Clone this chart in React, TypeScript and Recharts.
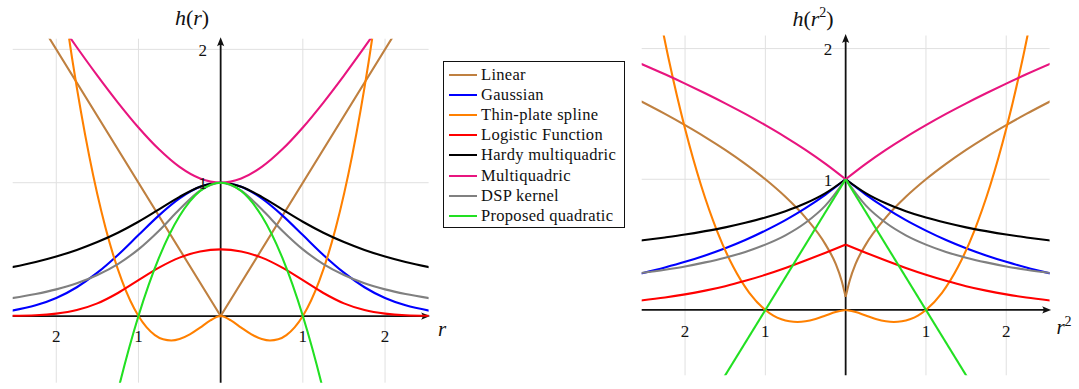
import React from 'react';
import { LineChart, Line, XAxis, YAxis, ReferenceLine, ReferenceDot } from 'recharts';

// series names / colours (legend order = draw order)
const seriesNames = ['Linear', 'Gaussian', 'Thin-plate spline', 'Logistic Function', 'Hardy multiquadric', 'Multiquadric', 'DSP kernel', 'Proposed quadratic'];
const seriesColors = ['#bf8040', '#0000ff', '#ff8000', '#ff0000', '#000000', '#e8157f', '#808080', '#22e022'];

// left panel: h(r), values read for r >= 0 (curves are symmetric)
const rSteps = [0, 0.25, 0.5, 0.75, 1, 1.25, 1.5, 1.75, 2, 2.25, 2.55];
const rEnds = [0, 2.55];
const rThin = [0, 0.125, 0.25, 0.375, 0.5, 0.6, 0.7, 0.8, 0.9, 1, 1.2, 1.4, 1.6, 1.8, 2.0];
const rQuad = [0, 0.25, 0.5, 0.75, 1, 1.25, 1.5];

const leftLinear = [0, 2.55];
const leftGaussian = [1, 0.969, 0.882, 0.755, 0.607, 0.458, 0.325, 0.216, 0.135, 0.08, 0.039];
const leftThinPlate = [0, -0.033, -0.087, -0.138, -0.173, -0.184, -0.175, -0.143, -0.085, 0, 0.263, 0.66, 1.203, 1.904, 2.773];
const leftLogistic = [0.5, 0.484, 0.438, 0.363, 0.269, 0.173, 0.095, 0.045, 0.018, 0.006, 0.002];
const leftHardy = [1, 0.97, 0.894, 0.8, 0.707, 0.625, 0.555, 0.496, 0.447, 0.406, 0.365];
const leftMulti = [1, 1.031, 1.118, 1.25, 1.414, 1.601, 1.803, 2.016, 2.236, 2.462, 2.739];
const leftDsp = [1, 0.941, 0.8, 0.64, 0.5, 0.39, 0.308, 0.246, 0.2, 0.165, 0.133];
const leftQuad = [1, 0.9375, 0.75, 0.4375, 0, -0.5625, -1.25];

// right panel: h(r^2), values read for r^2 >= 0
const sSteps = [0, 0.25, 0.5, 0.75, 1, 1.25, 1.5, 1.75, 2, 2.25, 2.55];
const sRoot = [0, 0.05, 0.125, 0.25, 0.5, 0.75, 1, 1.25, 1.5, 1.75, 2, 2.25, 2.55];
const sThin = [0, 0.125, 0.25, 0.375, 0.5, 0.6, 0.7, 0.8, 0.9, 1, 1.2, 1.4, 1.6, 1.8, 2.0, 2.2, 2.4];
const sEnds = [0, 1.6];

const rightLinear = [0.1, 0.224, 0.354, 0.5, 0.707, 0.866, 1, 1.118, 1.225, 1.323, 1.414, 1.5, 1.597];
const rightGaussian = [1, 0.883, 0.779, 0.687, 0.607, 0.535, 0.472, 0.417, 0.368, 0.325, 0.279];
const rightThinPlate = [0, -0.016, -0.043, -0.069, -0.087, -0.092, -0.087, -0.071, -0.043, 0, 0.131, 0.33, 0.602, 0.952, 1.386, 1.908, 2.521];
const rightLogistic = [0.5, 0.438, 0.378, 0.321, 0.269, 0.223, 0.182, 0.148, 0.119, 0.095, 0.072];
const rightHardy = [1, 0.894, 0.816, 0.756, 0.707, 0.667, 0.632, 0.603, 0.577, 0.555, 0.531];
const rightMulti = [1, 1.118, 1.225, 1.323, 1.414, 1.5, 1.581, 1.658, 1.732, 1.803, 1.884];
const rightDsp = [1, 0.8, 0.667, 0.571, 0.5, 0.444, 0.4, 0.364, 0.333, 0.308, 0.282];
const rightQuad = [1, -0.6];

const xTicks = [-2, -1, 1, 2];
const yTicks = [1, 2];

const FONT = '"Liberation Serif", "DejaVu Serif", serif';

type Pt = { x: number; y: number };
type Series = { xs: number[]; ys: number[]; curve: 'monotone' | 'linear' };

const mirror = (xs: number[], ys: number[]): Pt[] => {
  const pts: Pt[] = [];
  for (let i = xs.length - 1; i > 0; i--) pts.push({ x: -xs[i], y: ys[i] });
  for (let i = 0; i < xs.length; i++) pts.push({ x: xs[i], y: ys[i] });
  return pts;
};
const half = (xs: number[], ys: number[], sign: number): Pt[] => xs.map((x, i) => ({ x: sign * x, y: ys[i] }));

const leftSeries: Series[] = [
  { xs: rEnds, ys: leftLinear, curve: 'linear' },
  { xs: rSteps, ys: leftGaussian, curve: 'monotone' },
  { xs: rThin, ys: leftThinPlate, curve: 'monotone' },
  { xs: rSteps, ys: leftLogistic, curve: 'monotone' },
  { xs: rSteps, ys: leftHardy, curve: 'monotone' },
  { xs: rSteps, ys: leftMulti, curve: 'monotone' },
  { xs: rSteps, ys: leftDsp, curve: 'monotone' },
  { xs: rQuad, ys: leftQuad, curve: 'monotone' },
];

const rightSeries: Series[] = [
  { xs: sRoot, ys: rightLinear, curve: 'monotone' },
  { xs: sSteps, ys: rightGaussian, curve: 'monotone' },
  { xs: sThin, ys: rightThinPlate, curve: 'monotone' },
  { xs: sSteps, ys: rightLogistic, curve: 'monotone' },
  { xs: sSteps, ys: rightHardy, curve: 'monotone' },
  { xs: sSteps, ys: rightMulti, curve: 'monotone' },
  { xs: sSteps, ys: rightDsp, curve: 'monotone' },
  { xs: sEnds, ys: rightQuad, curve: 'linear' },
];

// axis line with a small arrow head at the end
const ArrowShape = (p: any) => {
  const { x1, y1, x2, y2 } = p;
  const dx = x2 - x1;
  const dy = y2 - y1;
  const len = Math.hypot(dx, dy) || 1;
  const ux = dx / len;
  const uy = dy / len;
  const tx = x2 + ux * 1.5;
  const ty = y2 + uy * 1.5;
  const L = 9;
  const W = 3.6;
  const bx = tx - ux * L;
  const by = ty - uy * L;
  return (
    <g>
      <line x1={x1} y1={y1} x2={bx + ux * 3} y2={by + uy * 3} stroke="#111" strokeWidth={1.8} />
      <path
        d={`M${tx},${ty} L${bx - uy * W},${by + ux * W} Q${bx + ux * 3},${by + uy * 3} ${bx + uy * W},${by - ux * W} Z`}
        fill="#111"
      />
    </g>
  );
};

// tick text placed relative to the reference dot
const tickText = (text: string, dx: number, dy: number) => (props: any) => {
  const vb = props.viewBox || {};
  const cx = (vb.x ?? 0) + (vb.width ?? 0) / 2;
  const cy = (vb.y ?? 0) + (vb.height ?? 0) / 2;
  return (
    <text x={cx + dx} y={cy + dy} textAnchor="middle" dominantBaseline="central" fontSize={17} fontFamily={FONT} fill="#111">
      {text}
    </text>
  );
};

type PanelProps = {
  series: Series[];
  cusp: boolean;
  width: number;
  height: number;
  margin: { top: number; right: number; bottom: number; left: number };
  xDomain: [number, number];
  yDomain: [number, number];
  xLabelDy: number;
  yLabelDx: number;
};

const Panel: React.FC<PanelProps> = ({ series, cusp, width, height, margin, xDomain, yDomain, xLabelDy, yLabelDx }) => {
  const lines: React.ReactNode[] = [];
  series.forEach((s, i) => {
    const parts = cusp ? [half(s.xs, s.ys, -1), half(s.xs, s.ys, 1)] : [mirror(s.xs, s.ys)];
    parts.forEach((pts, j) => {
      lines.push(
        <Line
          key={`${i}-${j}`}
          data={pts}
          dataKey="y"
          type={s.curve}
          stroke={seriesColors[i]}
          strokeWidth={2.1}
          dot={false}
          activeDot={false}
          isAnimationActive={false}
        />
      );
    });
  });

  return (
    <LineChart width={width} height={height} margin={margin}>
      <XAxis type="number" dataKey="x" domain={xDomain} allowDataOverflow hide />
      <YAxis type="number" domain={yDomain} allowDataOverflow hide />
      {xTicks.map((t) => (
        <ReferenceLine key={`gx${t}`} x={t} stroke="#e0e0e0" strokeWidth={1} ifOverflow="visible" />
      ))}
      {yTicks.map((t) => (
        <ReferenceLine key={`gy${t}`} y={t} stroke="#e0e0e0" strokeWidth={1} ifOverflow="visible" />
      ))}
      {xTicks.map((t) => (
        <ReferenceDot
          key={`lx${t}`}
          x={t}
          y={0}
          r={0.5}
          fill="none"
          stroke="none"
          ifOverflow="visible"
          label={{ content: tickText(String(Math.abs(t)), 0, xLabelDy) }}
        />
      ))}
      {yTicks.map((t) => (
        <ReferenceDot
          key={`ly${t}`}
          x={0}
          y={t}
          r={0.5}
          fill="none"
          stroke="none"
          ifOverflow="visible"
          label={{ content: tickText(String(t), yLabelDx, 1) }}
        />
      ))}
      <ReferenceLine
        segment={[{ x: xDomain[0], y: 0 }, { x: xDomain[1], y: 0 }]}
        ifOverflow="visible"
        shape={ArrowShape}
      />
      <ReferenceLine
        segment={[{ x: 0, y: yDomain[0] }, { x: 0, y: yDomain[1] }]}
        ifOverflow="visible"
        shape={ArrowShape}
      />
      {lines}
    </LineChart>
  );
};

const textStyle: React.CSSProperties = {
  position: 'absolute',
  fontFamily: FONT,
  color: '#111',
  transform: 'translate(-50%, -50%)',
  whiteSpace: 'nowrap',
  lineHeight: 1,
};

export default function App() {
  return (
    <div style={{ position: 'fixed', left: 0, top: 0, width: 1079, height: 389, background: '#fff', overflow: 'hidden' }}>
      <div style={{ position: 'absolute', left: 0, top: 0 }}>
        <Panel
          series={leftSeries}
          cusp={false}
          width={450}
          height={389}
          margin={{ top: 38.7, right: 21.4, bottom: 6.3, left: 12.7 }}
          xDomain={[-2.53, 2.53]}
          yDomain={[-0.5, 2.08]}
          xLabelDy={20.7}
          yLabelDx={-18}
        />
      </div>
      <div style={{ position: 'absolute', left: 630, top: 0 }}>
        <Panel
          series={rightSeries}
          cusp={true}
          width={449}
          height={389}
          margin={{ top: 35.5, right: 29.4, bottom: 13.7, left: 11.7 }}
          xDomain={[-2.54, 2.54]}
          yDomain={[-0.5, 2.1]}
          xLabelDy={21.7}
          yLabelDx={-17.7}
        />
      </div>

      {/* axis titles */}
      <div style={{ ...textStyle, left: 192, top: 18, fontSize: 22 }}>
        <i>h</i>(<i>r</i>)
      </div>
      <div style={{ ...textStyle, left: 442, top: 329, fontSize: 21 }}>
        <i>r</i>
      </div>
      <div style={{ ...textStyle, left: 813, top: 18, fontSize: 22 }}>
        <i>h</i>(<i>r</i>
        <sup style={{ fontSize: 14 }}>2</sup>)
      </div>
      <div style={{ ...textStyle, left: 1064, top: 326, fontSize: 21 }}>
        <i>r</i>
        <sup style={{ fontSize: 14 }}>2</sup>
      </div>

      {/* legend */}
      <div
        style={{
          position: 'absolute',
          left: 443,
          top: 60.5,
          width: 182,
          height: 167,
          border: '1.6px solid #111',
          background: '#fff',
          boxSizing: 'border-box',
        }}
      >
        {seriesNames.map((name, i) => (
          <div
            key={name}
            style={{ position: 'absolute', left: 5, top: 3.5 + i * 20.1, height: 20, display: 'flex', alignItems: 'center' }}
          >
            <div style={{ width: 28, height: 2, background: seriesColors[i], marginRight: 4 }} />
            <span style={{ fontFamily: FONT, fontSize: 16.5, color: '#111', letterSpacing: 0.3 }}>{name}</span>
          </div>
        ))}
      </div>
    </div>
  );
}
